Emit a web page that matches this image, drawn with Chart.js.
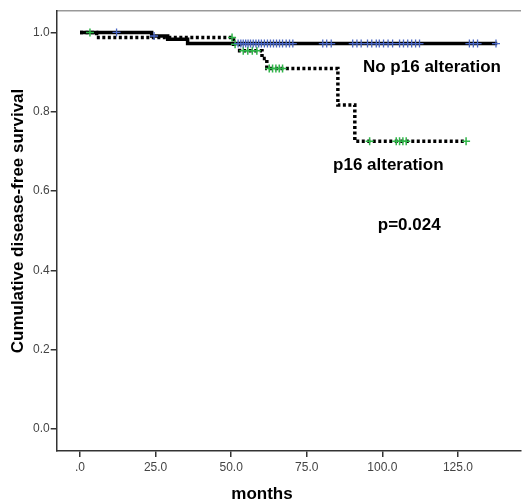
<!DOCTYPE html>
<html>
<head>
<meta charset="utf-8">
<script src="https://cdn.jsdelivr.net/npm/chart.js@4"></script>
<style>
  body { margin: 0; background: #fff; }
  #wrap { width: 526px; height: 502px; }
</style>
</head>
<body>
<div id="wrap"><canvas id="km"></canvas></div>
<script>
// --- Data ---
const xTicks = [0, 25, 50, 75, 100, 125];
const yTicks = [0, 0.2, 0.4, 0.6, 0.8, 1.0];

// No p16 alteration (solid line): step times and survival after each step
const noAltTimes = [0, 23.7, 29, 35.6, 138];
const noAltSurv = [1.0, 0.991, 0.983, 0.972, 0.972];
const noAltCensored = [12.1, 24.5, 52.3, 53.2, 54, 54.8, 55.6, 56.4, 57.3, 58.2, 59.1, 60, 61, 62, 63, 64,
    65, 66, 67, 68.2, 69.3, 70.4, 80.3, 81.6, 83.1, 90.2, 91.6, 93, 95.1, 96.5, 98, 99, 100.4, 101.9,
    103.4, 105.7, 107, 108.4, 109.7, 111, 112.3, 128.8, 130.1, 131.5, 137.6];

// p16 alteration (dotted line)
const altTimes = [0, 5.5, 50.8, 52.8, 60.2, 61.8, 85.3, 90.9, 127.7];
const altSurv = [1.0, 0.987, 0.97, 0.954, 0.934, 0.909, 0.817, 0.726, 0.726];
const altCensored = [3.3, 50.3, 51.3, 54, 55.5, 57, 58.5, 62.6, 63.7, 64.8, 65.9, 67, 95.8, 104.6, 105.7,
    106.8, 107.9, 127.7];

const stepAt = (times, surv, t) => {
    let v = surv[0];
    times.forEach((x, i) => { if (x <= t) v = surv[i]; });
    return v;
};
const toPts = (times, surv) => times.map((t, i) => ({ x: t, y: surv[i] }));
const censPts = (list, times, surv) => list.map(t => ({ x: t, y: stepAt(times, surv, t) }));

const FONT = '"Liberation Sans", Arial, sans-serif';

// labels drawn inside the plot + axis titles
const textPlugin = {
    id: 'texts',
    afterDraw(chart) {
        const c = chart.ctx, x = chart.scales.x, y = chart.scales.y;
        c.save();
        c.fillStyle = '#000';
        c.font = 'bold 17px ' + FONT;
        c.textBaseline = 'middle';
        c.textAlign = 'left';
        c.fillText('No p16 alteration', x.getPixelForValue(93.6), y.getPixelForValue(0.911));
        c.fillText('p16 alteration', x.getPixelForValue(83.7), y.getPixelForValue(0.666));
        c.fillText('p=0.024', x.getPixelForValue(98.5), y.getPixelForValue(0.514));
        c.textAlign = 'center';
        c.fillText('months', 262, 494);
        c.translate(18, 221);
        c.rotate(-Math.PI / 2);
        c.fillText('Cumulative disease-free survival', 0, 0);
        c.restore();
    }
};

new Chart(document.getElementById('km'), {
    type: 'scatter',
    data: {
        datasets: [
            {
                label: 'No p16 alteration censored',
                data: censPts(noAltCensored, noAltTimes, noAltSurv),
                pointStyle: 'cross', pointRadius: 4, borderWidth: 1.3,
                borderColor: '#4a67c4', showLine: false, order: 0
            },
            {
                label: 'p16 alteration censored',
                data: censPts(altCensored, altTimes, altSurv),
                pointStyle: 'cross', pointRadius: 4, borderWidth: 1.5,
                borderColor: '#2fb548', showLine: false, order: 0
            },
            {
                label: 'p16 alteration',
                data: toPts(altTimes, altSurv),
                showLine: true, stepped: true, borderColor: '#000',
                borderWidth: 3.5, borderDash: [3, 2.5], pointRadius: 0, order: 1
            },
            {
                label: 'No p16 alteration',
                data: toPts(noAltTimes, noAltSurv),
                showLine: true, stepped: true, borderColor: '#000',
                borderWidth: 3.5, pointRadius: 0, order: 2
            }
        ]
    },
    options: {
        responsive: true,
        maintainAspectRatio: false,
        animation: false,
        layout: { padding: 0 },
        plugins: { legend: { display: false }, tooltip: { enabled: false } },
        scales: {
            x: {
                type: 'linear', position: 'bottom', min: -7.7, max: 145.7,
                afterBuildTicks: s => { s.ticks = xTicks.map(v => ({ value: v })); },
                afterFit: s => { s.height = 51; },
                ticks: {
                    font: { family: FONT, size: 12 }, color: '#444', padding: 3, maxRotation: 0,
                    callback: v => v === 0 ? '.0' : v.toFixed(1)
                },
                grid: { drawOnChartArea: false, tickLength: 6, color: '#333', lineWidth: 1.5 },
                border: { color: '#333', width: 1.5 }
            },
            x2: {
                type: 'linear', position: 'top', min: -7.7, max: 145.7,
                afterFit: s => { s.height = 11; },
                ticks: { display: false },
                grid: { display: false },
                border: { color: '#999', width: 1.5 }
            },
            y: {
                min: -0.055, max: 1.054,
                afterBuildTicks: s => { s.ticks = yTicks.map(v => ({ value: v })); },
                afterFit: s => { s.width = 56.7; },
                ticks: {
                    font: { family: FONT, size: 12 }, color: '#444', padding: 1,
                    callback: v => v.toFixed(1)
                },
                grid: { drawOnChartArea: false, tickLength: 6, color: '#333', lineWidth: 1.5 },
                border: { color: '#333', width: 1.5 }
            }
        }
    },
    plugins: [textPlugin]
});
</script>
</body>
</html>
